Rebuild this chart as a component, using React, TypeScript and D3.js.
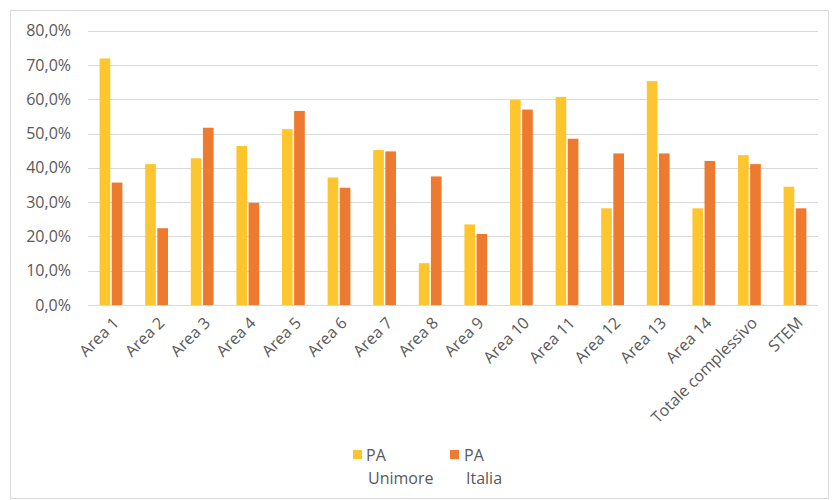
import React from "react";
import * as d3 from "d3";

const categories = [
  "Area 1", "Area 2", "Area 3", "Area 4", "Area 5", "Area 6", "Area 7", "Area 8",
  "Area 9", "Area 10", "Area 11", "Area 12", "Area 13", "Area 14", "Totale complessivo", "STEM",
];
const unimore = [71.9, 41.1, 42.8, 46.4, 51.3, 37.2, 45.2, 12.2, 23.5, 59.8, 60.7, 28.2, 65.3, 28.2, 43.7, 34.5];
const italia = [35.7, 22.4, 51.7, 29.8, 56.6, 34.2, 44.8, 37.5, 20.7, 57.0, 48.5, 44.2, 44.2, 42.0, 41.1, 28.2];
const yTicks = [0, 10, 20, 30, 40, 50, 60, 70, 80];
const seriesNames = ["Unimore", "Italia"];
const colors = ["#FDC52E", "#EE7A30"];

const W = 832;
const H = 500;
const font = "'Open Sans', sans-serif";
const textColor = "#595959";
const gridColor = "#d9d9d9";

export default function App() {
  const x = d3.scaleBand<string>().domain(categories).range([88.2, 817.8]).paddingInner(0.5).paddingOuter(0.25);
  const xSub = d3.scaleBand<string>().domain(seriesNames).range([0, x.bandwidth()]).paddingInner(0.12);
  const y = d3.scaleLinear().domain([0, 80]).range([305, 30.7]);
  const series = [unimore, italia];
  const fmt = (v: number) => v.toFixed(1).replace(".", ",") + "%";

  return (
    <svg width={W} height={H} style={{ position: "absolute", left: 0, top: 0, background: "#fff" }}>
      <rect x={10.5} y={10.5} width={818} height={488} fill="#fff" stroke={gridColor} />
      <g>
        {yTicks.map((t) => (
          <g key={t}>
            <line x1={88} x2={818} y1={Math.round(y(t)) + 0.5} y2={Math.round(y(t)) + 0.5} stroke={gridColor} />
            <text x={71} y={y(t)} dy="0.35em" textAnchor="end" fontFamily={font} fontSize={16} fill={textColor}>
              {fmt(t)}
            </text>
          </g>
        ))}
      </g>
      <g>
        {categories.map((c, i) => (
          <g key={c} transform={`translate(${x(c)},0)`}>
            {series.map((s, j) => (
              <rect
                key={j}
                x={xSub(seriesNames[j])}
                y={y(s[i])}
                width={xSub.bandwidth()}
                height={y(0) - y(s[i])}
                fill={colors[j]}
              />
            ))}
          </g>
        ))}
      </g>
      <g>
        {categories.map((c) => {
          const cx = (x(c) as number) + x.bandwidth() / 2 + 1;
          return (
            <text
              key={c}
              transform={`translate(${cx},${316}) rotate(-45)`}
              textAnchor="end"
              dy="0.7em"
              fontFamily={font}
              fontSize={16}
              fill={textColor}
            >
              {c}
            </text>
          );
        })}
      </g>
      <g fontFamily={font} fontSize={16} fill={textColor}>
        <rect x={353} y={450} width={9} height={9} fill={colors[0]} />
        <text x={366} y={461}>PA</text>
        <text x={368} y={484}>Unimore</text>
        <rect x={450} y={450} width={9} height={9} fill={colors[1]} />
        <text x={464} y={461}>PA</text>
        <text x={466} y={484}>Italia</text>
      </g>
    </svg>
  );
}
